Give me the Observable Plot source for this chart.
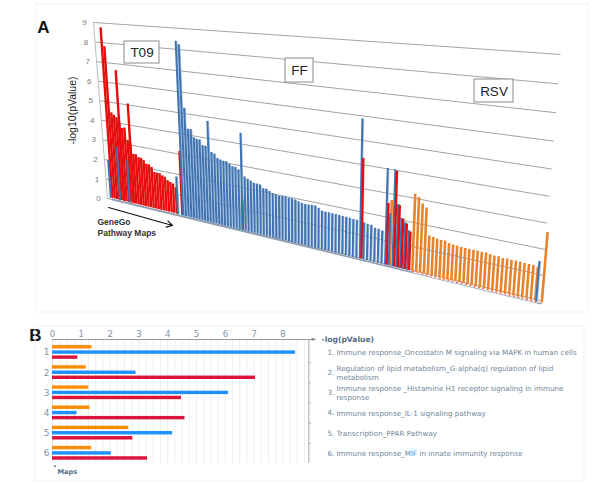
<!DOCTYPE html>
<html>
<head>
<meta charset="utf-8">
<style>
html,body{margin:0;padding:0;background:#fff}
#a,#b{display:block;width:600px}
svg{display:block}
</style>
<script src="https://cdn.jsdelivr.net/npm/d3@7"></script>
<script src="https://cdn.jsdelivr.net/npm/@observablehq/plot@0.6"></script>
</head>
<body>
<div id="a"></div>
<div id="b"></div>
<script>
// ---------- Panel A data ----------
const gridValues = [0,1,2,3,4,5,6,7,8,9];
const t09Start = 0;
const t09Values = [8.7,7.75,4.4,4.3,4.2,4.0,3.7,3.75,3.15,3.0,2.5,2.5,2.38,2.37,2.3,2.13,2.13,2.03,1.8,1.8,1.8,1.72,1.68,1.54,1.48,1.43,1.28];
const t09OtherRanks = [5,9,28,49.5,86,93,95,96,97,98,99];
const t09OtherValues = [6.6,5.0,3.1,1.4,4.3,2.6,4.0,2.6,2.07,1.9,1.6];
const ffStart = 29;
const ffValues = [8.45,8.3,5.25,4.26,4.27,3.9,3.85,3.85,3.6,3.6,4.8,3.35,3.3,3.12,3.08,3.04,3.05,2.96,2.87,2.87,2.78,4.5,2.5,2.43,2.37,2.3,2.3,2.28,2.14,2.15,2.07,2.0,2.0,1.95,1.97,1.97,1.95,1.96,1.93,1.88,1.85,1.82,1.84,1.85,1.85,1.79,1.69,1.68,1.68,1.67,1.67,1.66,1.65,1.65,1.64,1.62,1.62,6.0,1.57,1.55,1.54,1.45,1.44,1.4,4.07,2.2,4.07,2.65,2.1,1.95,1.65];
const ffOtherRanks = [0,4,8,27,130.5];
const ffOtherValues = [1.93,2.7,2.15,1.83,1.55];
const rsvStart = 100;
const rsvValues = [3.2,3.1,2.86,2.72,1.6,1.58,1.55,1.53,1.54,1.47,1.45,1.44,1.42,1.42,1.42,1.42,1.42,1.41,1.42,1.39,1.37,1.38,1.35,1.36,1.35,1.36,1.36,1.34,1.34,1.34,1.31];
const rsvOtherRanks = [94,131.5];
const rsvOtherValues = [2.75,2.7];
const seriesNames = ["T09","FF","RSV"];
const seriesColors = ["#e60d0d","#3f72b0","#e8832a"];

// ---------- Panel B data ----------
const mapRows = [1,2,3,4,5,6];
const mapOrange = [1.37,1.17,1.26,1.3,2.65,1.36];
const mapBlue = [8.44,2.9,6.11,0.85,4.17,2.04];
const mapRed = [0.88,7.05,4.48,4.6,2.79,3.3];
const mapNames = [
  "Immune response_Oncostatin M signaling via MAPK in human cells",
  "Regulation of lipid metabolism_G-alpha(q) regulation of lipid\nmetabolism",
  "Immune response _Histamine H1 receptor signaling in immune\nresponse",
  "Immune response_IL-1 signaling pathway",
  "Transcription_PPAR Pathway",
  "Immune response_MIF in innate immunity response"
];

// ---------- Perspective of the 3-D chart ----------
const rankX = r => 475*Math.exp(0.0049*r) - 363.5;
function project(rank, value){
  const bx = rankX(rank), u = (bx-111.5)/427;
  const by = 197 + 0.243*(bx-110), s = 19.6 + 6.4*u, lean = 0.07 - 0.153*u;
  return [bx - lean*s*value, by - s*value];
}
const wall = v => ({
  x1: 107 - 1.556*v, y1: 198 - 19.56*v,
  x2: 540 + 2.22*v,  y2: 300 - 25*v - 0.26*v*v
});

const barsOf = (series, start, values) => values.map((value,i)=>({series, rank:start+i, value}));
const barsAt = (series, ranks, values) => values.map((value,i)=>({series, rank:ranks[i], value}));
const order = d => d.rank < 29 ? (d.series==="FF"?1:0) : d.rank<100 ? (d.series==="RSV"?0:d.series==="FF"?1:2) : (d.series==="FF"?1:2);
const bars = [
  ...barsOf("T09",t09Start,t09Values), ...barsAt("T09",t09OtherRanks,t09OtherValues),
  ...barsOf("FF",ffStart,ffValues), ...barsAt("FF",ffOtherRanks,ffOtherValues),
  ...barsOf("RSV",rsvStart,rsvValues), ...barsAt("RSV",rsvOtherRanks,rsvOtherValues)
].sort((a,b)=>a.rank-b.rank || order(a)-order(b));
const nudge = d => d.series==="FF" ? -1.2 : d.series==="T09" ? 0.5 : 0;
const colorOf = d => seriesColors[seriesNames.indexOf(d.series)];
bars.forEach(d=>{
  const [tx,ty]=project(d.rank,d.value), [bx,by]=project(d.rank,0);
  Object.assign(d,{tx:tx+nudge(d),ty,bx:bx+nudge(d),by});
});
const floorAll = [{a:0,b:131.5}], floorRsv = [{a:100,b:130.5}];
const F = "Liberation Sans, Arial, sans-serif";
const boxes = [
  {t:"T09",x1:124,x2:159,y1:41,y2:63},
  {t:"FF",x1:285,x2:313,y1:58,y2:82},
  {t:"RSV",x1:474,x2:513,y1:79,y2:102}
];

const panelA = Plot.plot({
  width:600, height:315, margin:0,
  x:{domain:[0,600],range:[0,600],axis:null},
  y:{domain:[0,315],range:[0,315],axis:null},
  marks:[
    Plot.rect([{}],{x1:()=>36,x2:()=>588,y1:()=>4,y2:()=>312,stroke:"#f1f1f1",fill:"#fff"}),
    Plot.link(gridValues,{x1:d=>wall(d).x1,y1:d=>wall(d).y1,x2:d=>wall(d).x2,y2:d=>wall(d).y2,stroke:"#a2a2a2",strokeWidth:1}),
    Plot.link([0],{x1:()=>wall(0).x1,y1:()=>wall(0).y1,x2:()=>wall(9).x1,y2:()=>wall(9).y1,stroke:"#bdbdbd",strokeWidth:1}),
    Plot.text(gridValues,{x:d=>wall(d).x1-9,y:d=>wall(d).y1,text:d=>String(d),fontSize:8,fontFamily:F,fill:"#7a7a7a"}),
    Plot.link(floorAll,{x1:d=>project(d.a,0)[0],y1:d=>project(d.a,0)[1]+1.5,x2:d=>project(d.b,0)[0],y2:d=>project(d.b,0)[1]+1.5,stroke:"#8e9cb0",strokeWidth:1.6}),
    Plot.link(floorRsv,{x1:d=>project(d.a,0)[0],y1:d=>project(d.a,0)[1]+0.6,x2:d=>project(d.b,0)[0],y2:d=>project(d.b,0)[1]+0.6,stroke:"#fff",strokeWidth:2}),
    Plot.link(floorRsv,{x1:d=>project(d.a,0)[0],y1:d=>project(d.a,0)[1]+0.6,x2:d=>project(d.b,0)[0],y2:d=>project(d.b,0)[1]+0.6,stroke:"#ef5a5a",strokeWidth:1.2,strokeDasharray:"2,2.5"}),
    Plot.link(bars.filter(d=>d.series==="FF"),{x1:d=>d.bx+1.2,y1:"by",x2:d=>d.tx+1.2,y2:d=>d.ty+0.5,stroke:"#a6c0e0",strokeWidth:1}),
    Plot.link(bars,{x1:"bx",y1:"by",x2:"tx",y2:"ty",stroke:colorOf,strokeWidth:d=>d.series==="FF"?2:d.series==="T09"?2.4:2.6}),
    Plot.text(["-log10(pValue)"],{x:()=>72,y:()=>110,rotate:-90,fontSize:10.5,fontFamily:F,fill:"#222"}),
    Plot.rect(boxes,{x1:"x1",x2:"x2",y1:"y1",y2:"y2",fill:"#fff",stroke:"#8a8a8a",strokeWidth:1}),
    Plot.text(boxes,{x:d=>(d.x1+d.x2)/2,y:d=>(d.y1+d.y2)/2+0.5,text:"t",fontSize:13.5,fontFamily:F,fill:"#222"}),
    Plot.text(["A"],{x:()=>43,y:()=>27,fontSize:17,fontWeight:"bold",fontFamily:F,fill:"#111"}),
    Plot.text(["GeneGo\nPathway Maps"],{x:()=>97,y:()=>226,textAnchor:"start",fontSize:8.5,fontWeight:"bold",fontFamily:F,lineHeight:1.3,fill:"#333"}),
    Plot.arrow([0],{x1:()=>108,y1:()=>207,x2:()=>172,y2:()=>225,stroke:"#111",strokeWidth:1.1,headLength:9,bend:false})
  ]
});
document.getElementById("a").appendChild(panelA);

// ---------- Panel B ----------
const seriesOffset = {orange:-0.265, blue:0, red:0.25};
const colorsB = {orange:"#ff8c00",blue:"#1e90ff",red:"#dc143c"};
const rowsB = mapRows.flatMap((row,i)=>[
  {row,series:"orange",value:mapOrange[i]},
  {row,series:"blue",value:mapBlue[i]},
  {row,series:"red",value:mapRed[i]}
]);
const textRows = mapRows.map((row,i)=>({row,name:mapNames[i]}));
const axisBlue = "#7f93a8";
const minorGrid = d3.range(0.25,8.9,0.25);
const xPerPx = 9.13/263;
const panelB = Plot.plot({
  width:600, height:169,
  marginLeft:52, marginRight:285, marginTop:24, marginBottom:21,
  x:{domain:[0,9.13],axis:null},
  y:{domain:[0.5,6.5],range:[27,148],axis:null},
  marks:[
    Plot.ruleX(minorGrid,{stroke:"#e9e9e9",strokeWidth:0.8}),
    Plot.ruleX([8.9],{stroke:"#a8a8a8",strokeWidth:1}),
    Plot.ruleX([0],{stroke:"#dde2e7",strokeWidth:1}),
    Plot.frame({anchor:"top",stroke:"#9a9a9a"}),
    Plot.rectX(rowsB,{x1:()=>0,x2:"value",y1:d=>d.row+seriesOffset[d.series]-0.085,y2:d=>d.row+seriesOffset[d.series]+0.085,fill:d=>colorsB[d.series]}),
    Plot.link(mapRows.slice(0,5),{x1:()=>8.9,x2:()=>8.97,y1:d=>d+0.5,y2:d=>d+0.5,stroke:"#a8a8a8"}),
    Plot.axisX({anchor:"top",ticks:[0,1,2,3,4,5,6,7,8],tickSize:0,tickPadding:3,fontSize:8.5,fontFamily:"DejaVu Sans",fill:axisBlue,label:null}),
    Plot.axisY({anchor:"left",ticks:mapRows,tickFormat:d=>String(d),tickSize:0,tickPadding:3,fontSize:9,fontFamily:"DejaVu Sans",fill:axisBlue,label:null}),
    Plot.text(["►"],{frameAnchor:"top-right",dx:1,fontSize:6,lineAnchor:"middle",fill:"#8a8a8a"}),
    Plot.text(["-log(pValue)"],{frameAnchor:"top-right",dx:6,textAnchor:"start",lineAnchor:"middle",fontSize:7.6,fontWeight:"bold",fontFamily:"DejaVu Sans",fill:"#4f6c88"}),
    Plot.text(["▼"],{frameAnchor:"bottom-left",dy:3,fontSize:5,lineAnchor:"middle",fill:"#8a8a8a"}),
    Plot.text(["Maps"],{frameAnchor:"bottom-left",dx:5,dy:8,textAnchor:"start",lineAnchor:"middle",fontSize:6.6,fontWeight:"bold",fontFamily:"DejaVu Sans",fill:"#4f6c88"}),
    Plot.text(textRows,{y:"row",x:()=>(327-52)*xPerPx,text:d=>d.row+".",textAnchor:"start",fontSize:7.2,fontFamily:"DejaVu Sans",fill:"#6f8599"}),
    Plot.text(textRows,{y:"row",x:()=>(336-52)*xPerPx,text:"name",textAnchor:"start",fontSize:7.2,lineHeight:1.2,fontFamily:"DejaVu Sans",fill:"#6f8599"}),
    Plot.text(["B"],{x:()=>(35-52)*xPerPx,y:()=>0.5,dy:-7,fontSize:17,fontWeight:"bold",fontFamily:F,fill:"#111"}),
    Plot.rect([{}],{x1:()=>(35-52)*xPerPx,x2:()=>(584-52)*xPerPx,y1:()=>-0.3,y2:()=>7.4,stroke:"#f1f1f1",fill:"none"})
  ]
});
document.getElementById("b").appendChild(panelB);
</script>
</body>
</html>
